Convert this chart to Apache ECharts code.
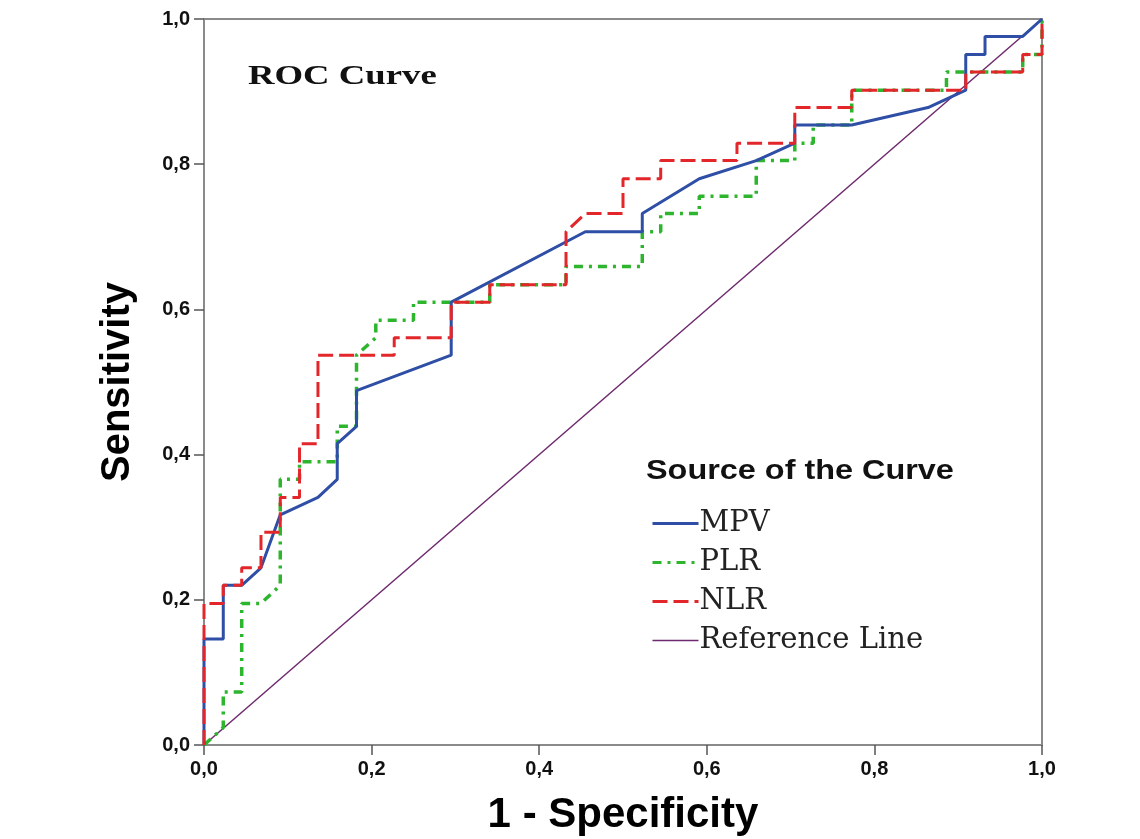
<!DOCTYPE html>
<html>
<head>
<meta charset="utf-8">
<script src="https://cdn.jsdelivr.net/npm/echarts@6/dist/echarts.min.js"></script>
<style>
html,body{margin:0;padding:0;background:#fff;}
#chart{width:1140px;height:839px;}
</style>
</head>
<body>
<div id="chart"></div>
<script>
// 1 - Specificity (x) and Sensitivity (y) for each curve
const mpvX = [0,0,0.023,0.023,0.045,0.068,0.091,0.136,0.159,0.159,0.182,0.182,0.295,0.295,0.455,0.523,0.523,0.591,0.659,0.705,0.705,0.773,0.864,0.909,0.909,0.932,0.932,0.977,1];
const mpvY = [0,0.146,0.146,0.220,0.220,0.244,0.317,0.341,0.366,0.415,0.439,0.488,0.537,0.610,0.707,0.707,0.732,0.780,0.805,0.829,0.854,0.854,0.878,0.902,0.951,0.951,0.976,0.976,1];

const plrX = [0,0.023,0.023,0.045,0.045,0.068,0.091,0.091,0.114,0.114,0.159,0.159,0.182,0.182,0.205,0.205,0.250,0.250,0.341,0.341,0.432,0.432,0.523,0.523,0.545,0.545,0.591,0.591,0.659,0.659,0.705,0.705,0.727,0.727,0.773,0.773,0.886,0.886,0.977,0.977,1,1];
const plrY = [0,0.024,0.073,0.073,0.195,0.195,0.220,0.366,0.366,0.390,0.390,0.439,0.439,0.537,0.561,0.585,0.585,0.610,0.610,0.634,0.634,0.659,0.659,0.707,0.707,0.732,0.732,0.756,0.756,0.805,0.805,0.829,0.829,0.854,0.854,0.902,0.902,0.927,0.927,0.951,0.951,1];

const nlrX = [0,0,0.023,0.023,0.045,0.045,0.068,0.068,0.091,0.091,0.114,0.114,0.136,0.136,0.227,0.227,0.295,0.295,0.341,0.341,0.432,0.432,0.455,0.500,0.500,0.545,0.545,0.636,0.636,0.705,0.705,0.773,0.773,0.909,0.909,0.977,0.977,1,1];
const nlrY = [0,0.195,0.195,0.220,0.220,0.244,0.244,0.293,0.293,0.341,0.341,0.415,0.415,0.537,0.537,0.561,0.561,0.610,0.610,0.634,0.634,0.707,0.732,0.732,0.780,0.780,0.805,0.805,0.829,0.829,0.878,0.878,0.902,0.902,0.927,0.927,0.951,0.951,1];

const refX = [0,1];
const refY = [0,1];

const seriesNames = ['MPV','PLR','NLR','Reference Line'];
const xTitle = '1 - Specificity';
const yTitle = 'Sensitivity';
const chartTitle = 'ROC Curve';
const legendTitle = 'Source of the Curve';

function pairs(xs, ys){ return xs.map((x,i)=>[x, ys[i]]); }
function fmt(v){ return v.toFixed(1).replace('.', ','); }

const chart = echarts.init(document.getElementById('chart'), null, {renderer:'canvas'});
const labelStyle = {formatter:fmt, color:'#111', fontFamily:'Liberation Sans, Arial, sans-serif', fontWeight:'bold', fontSize:20};
const axisCommon = {
  type:'value', min:0, max:1, interval:0.2,
  axisLine:{show:true, onZero:false, lineStyle:{color:'#8a8a8a', width:2}},
  axisTick:{show:true, inside:false, length:10, lineStyle:{color:'#555', width:1.5}},
  splitLine:{show:false},
  nameLocation:'middle'
};
chart.setOption({
  animation:false,
  backgroundColor:'#fff',
  grid:{left:204, right:98, top:19, bottom:94, outerBoundsMode:'none', containLabel:false,
        show:true, borderColor:'#8a8a8a', borderWidth:2, backgroundColor:'transparent'},
  xAxis:Object.assign({}, axisCommon, {
    name:xTitle, nameGap:49,
    nameTextStyle:{fontFamily:'Liberation Sans, Arial, sans-serif', fontWeight:'bold', fontSize:42, color:'#000'},
    axisLabel:Object.assign({}, labelStyle, {margin:14})
  }),
  yAxis:Object.assign({}, axisCommon, {
    name:yTitle, nameGap:66,
    nameTextStyle:{fontFamily:'Liberation Sans, Arial, sans-serif', fontWeight:'bold', fontSize:40, color:'#000'},
    axisLabel:Object.assign({}, labelStyle, {margin:14})
  }),
  legend:{
    orient:'vertical', left:646, top:504, itemGap:10, itemWidth:46, itemHeight:28,
    data:[
      {name:seriesNames[0], lineStyle:{width:3}},
      {name:seriesNames[1], lineStyle:{width:3}},
      {name:seriesNames[2], lineStyle:{width:3}},
      {name:seriesNames[3], lineStyle:{width:1.5}}
    ],
    itemStyle:{opacity:0},
    textStyle:{fontFamily:'DejaVu Serif, Liberation Serif, serif', fontSize:29, color:'#222', padding:[0,0,0,-4]},
    selectedMode:false
  },
  graphic:[
    {type:'text', left:248, top:64, scaleX:1.36,
     style:{text:chartTitle, font:'bold 27px "Liberation Serif", "Times New Roman", serif', fill:'#111'}},
    {type:'text', left:646, top:458, scaleX:1.2,
     style:{text:legendTitle, font:'bold 27px "Liberation Sans", Arial, sans-serif', fill:'#111'}}
  ],
  series:[
    {name:seriesNames[0], type:'line', data:pairs(mpvX,mpvY), symbol:'none', z:4,
     lineStyle:{color:'#2f4fa6', width:3}, itemStyle:{color:'#2f4fa6'}},
    {name:seriesNames[1], type:'line', data:pairs(plrX,plrY), symbol:'none', z:3,
     lineStyle:{color:'#2db52d', width:3.5, type:[9,6,3,6]}, itemStyle:{color:'#2db52d'}},
    {name:seriesNames[2], type:'line', data:pairs(nlrX,nlrY), symbol:'none', z:5,
     lineStyle:{color:'#e2262a', width:3, type:[15,6]}, itemStyle:{color:'#e2262a'}},
    {name:seriesNames[3], type:'line', data:pairs(refX,refY), symbol:'none', z:2,
     lineStyle:{color:'#6e2a6e', width:1.5}, itemStyle:{color:'#6e2a6e'}}
  ]
});
</script>
</body>
</html>
